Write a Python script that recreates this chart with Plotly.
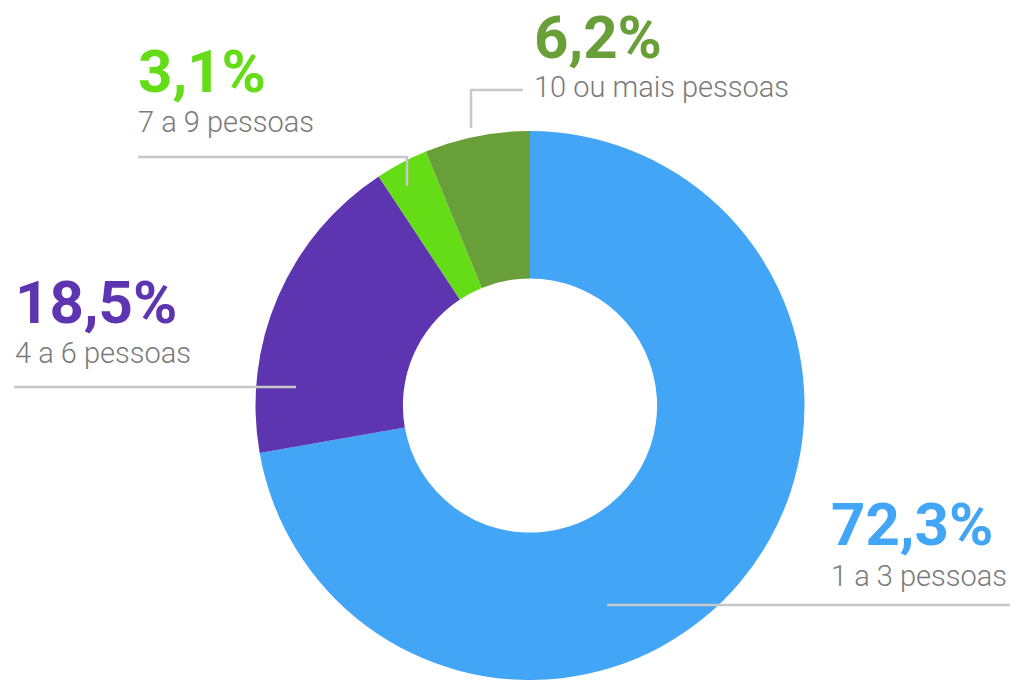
import plotly.graph_objects as go

# The page body has an 8px margin, so the figure starts at (8, 8) in the window.
OFF = 8
W, H = 1018 - OFF, 680 - OFF

labels = ["1 a 3 pessoas", "4 a 6 pessoas", "7 a 9 pessoas", "10 ou mais pessoas"]
values = [72.3, 18.5, 3.1, 6.2]
pct_text = ["72,3%", "18,5%", "3,1%", "6,2%"]
colors = ["#42A5F5", "#5E35B1", "#64DD17", "#689F38"]

# label placement in window pixels (left x, center y of percent, center y of subtitle)
label_pos = [(829, 524, 576), (13, 302, 353), (136, 71, 122), (532, 38, 87)]

# leader line paths in window pixels
leader_paths = [
    [(607, 605), (1014, 605)],
    [(14, 387), (296, 387)],
    [(138, 157), (407, 157), (407, 186)],
    [(471, 128), (471, 90), (523, 90)],
]


def px(x):
    return (x - OFF) / W


def py(y):
    return 1 - (y - OFF) / H


fig = go.Figure(
    go.Pie(
        labels=labels,
        values=values,
        marker=dict(colors=colors, line=dict(width=0)),
        hole=0.463,
        sort=False,
        direction="clockwise",
        rotation=0,
        textinfo="none",
        hoverinfo="label+percent",
        showlegend=False,
        domain=dict(x=[px(255.5), px(804.5)], y=[0, 549 / H]),
    )
)

shapes = []
for path in leader_paths:
    d = "M " + " L ".join(f"{px(x):.5f},{py(y):.5f}" for x, y in path)
    shapes.append(
        dict(type="path", path=d, xref="paper", yref="paper",
             line=dict(color="#C8C8C8", width=2.5))
    )

annotations = []
for (lx, yp, ys), t, lab, c in zip(label_pos, pct_text, labels, colors):
    annotations.append(
        dict(x=px(lx), y=py(yp), xref="paper", yref="paper", text=t,
             showarrow=False, xanchor="left", yanchor="middle",
             font=dict(family="Roboto", size=60, color=c, weight=700))
    )
    annotations.append(
        dict(x=px(lx), y=py(ys), xref="paper", yref="paper", text=lab,
             showarrow=False, xanchor="left", yanchor="middle",
             font=dict(family="Roboto Light, Roboto", size=29,
                       color="#7a7a7a", weight=300))
    )

fig.update_layout(
    width=W,
    height=H,
    margin=dict(l=0, r=0, t=0, b=0),
    paper_bgcolor="white",
    plot_bgcolor="white",
    shapes=shapes,
    annotations=annotations,
)

fig.write_html("out.html", config={"displayModeBar": False})
